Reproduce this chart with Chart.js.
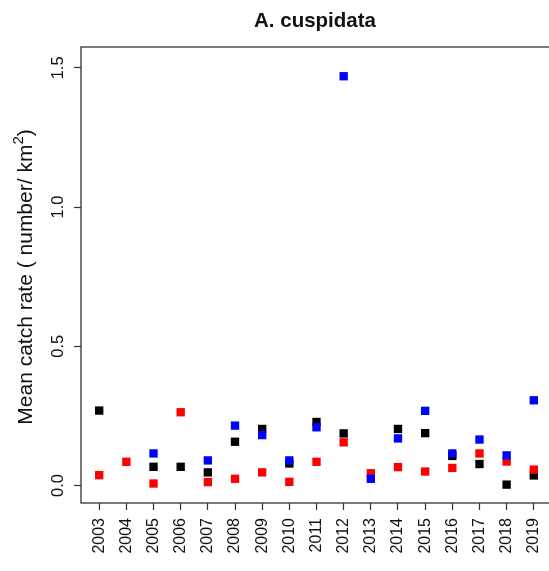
<!DOCTYPE html>
<html>
<head>
<meta charset="utf-8">
<script src="https://cdn.jsdelivr.net/npm/chart.js@4/dist/chart.umd.min.js"></script>
<style>
  html, body { margin: 0; padding: 0; background: #ffffff; overflow: hidden; }
  #wrap { width: 560px; height: 571px; }
</style>
</head>
<body>
<div id="wrap"><canvas id="c" width="560" height="571"></canvas></div>
<script>
const titleText = "A. cuspidata";
const years = [2003, 2004, 2005, 2006, 2007, 2008, 2009, 2010, 2011, 2012, 2013, 2014, 2015, 2016, 2017, 2018, 2019];
const yTicks = [0, 0.5, 1.0, 1.5];
const yTickLabels = ["0.0", "0.5", "1.0", "1.5"];
const blackValues = [0.269, null, 0.067, 0.067, 0.047, 0.157, 0.203, 0.079, 0.228, 0.187, null, 0.203, 0.188, 0.106, 0.077, 0.003, 0.036];
const redValues   = [0.037, 0.085, 0.007, 0.263, 0.012, 0.024, 0.047, 0.013, 0.085, 0.155, 0.044, 0.066, 0.050, 0.063, 0.115, 0.086, 0.057];
const blueValues  = [null, null, 0.115, null, 0.090, 0.215, 0.181, 0.090, 0.209, 1.470, 0.024, 0.169, 0.268, 0.115, 0.165, 0.108, 0.306];

function toPoints(vals) {
  const out = [];
  vals.forEach((v, i) => { if (v !== null) out.push({ x: years[i], y: v }); });
  return out;
}

const AXIS = '#333333';
const FONT = '"Liberation Sans", Arial, sans-serif';

const decor = {
  id: 'decor',
  afterDraw(chart) {
    const ctx = chart.ctx;
    const a = chart.chartArea;
    const xs = chart.scales.x, ys = chart.scales.y;
    ctx.save();
    // box
    ctx.strokeStyle = AXIS;
    ctx.lineWidth = 1.3;
    ctx.strokeRect(a.left, a.top, a.right - a.left, a.bottom - a.top);
    // title
    ctx.fillStyle = '#111';
    ctx.font = 'bold 20.5px ' + FONT;
    ctx.textAlign = 'center';
    ctx.textBaseline = 'middle';
    ctx.fillText(titleText, 315, 21);
    // x tick labels
    ctx.font = '16px ' + FONT;
    years.forEach(yr => {
      const px = xs.getPixelForValue(yr);
      ctx.save();
      ctx.translate(px, a.bottom + 15);
      ctx.rotate(-Math.PI / 2);
      ctx.textAlign = 'right';
      ctx.textBaseline = 'middle';
      ctx.fillText(String(yr), 0, 0);
      ctx.restore();
    });
    // y tick labels
    ctx.font = '16.5px ' + FONT;
    yTicks.forEach((v, i) => {
      const py = ys.getPixelForValue(v);
      ctx.save();
      ctx.translate(63, py);
      ctx.rotate(-Math.PI / 2);
      ctx.textAlign = 'center';
      ctx.textBaseline = 'alphabetic';
      ctx.fillText(yTickLabels[i], 0, 0);
      ctx.restore();
    });
    // y axis title with superscript
    ctx.save();
    const cy = (a.top + a.bottom) / 2 + 2;
    ctx.translate(32, cy);
    ctx.rotate(-Math.PI / 2);
    ctx.textBaseline = 'alphabetic';
    ctx.textAlign = 'left';
    const f1 = '21px ' + FONT, f2 = '15px ' + FONT;
    const p1 = 'Mean catch rate ( number/ km', p2 = '2', p3 = ')';
    ctx.font = f1; const w1 = ctx.measureText(p1).width; const w3 = ctx.measureText(p3).width;
    ctx.font = f2; const w2 = ctx.measureText(p2).width;
    const total = w1 + w2 + w3;
    let x0 = -total / 2;
    ctx.font = f1; ctx.fillText(p1, x0, 0);
    ctx.font = f2; ctx.fillText(p2, x0 + w1, -9);
    ctx.font = f1; ctx.fillText(p3, x0 + w1 + w2, 0);
    ctx.restore();
    ctx.restore();
  }
};

const ptStyle = (color) => ({
  type: 'scatter',
  backgroundColor: color,
  borderColor: color,
  borderWidth: 0,
  pointStyle: 'rect',
  pointRadius: 5.9,
  pointHoverRadius: 5.9,
  showLine: false
});

new Chart(document.getElementById('c'), {
  type: 'scatter',
  data: {
    datasets: [
      Object.assign({ label: 'blue', data: toPoints(blueValues) }, ptStyle('#0000ff')),
      Object.assign({ label: 'red', data: toPoints(redValues) }, ptStyle('#ff0000')),
      Object.assign({ label: 'black', data: toPoints(blackValues) }, ptStyle('#000000'))
    ]
  },
  options: {
    responsive: false,
    animation: false,
    events: [],
    layout: { padding: { left: 74, right: 8, top: 47, bottom: 61 } },
    plugins: { legend: { display: false }, tooltip: { enabled: false }, title: { display: false } },
    scales: {
      x: {
        type: 'linear',
        min: 2002.33,
        max: 2019.67,
        afterBuildTicks: s => { s.ticks = years.map(v => ({ value: v })); },
        afterFit: s => { s.height = 7; },
        ticks: { display: false },
        border: { display: false },
        grid: { display: true, drawOnChartArea: false, drawTicks: true, tickLength: 7, tickColor: AXIS, tickWidth: 1.2 }
      },
      y: {
        type: 'linear',
        min: -0.063,
        max: 1.575,
        afterBuildTicks: s => { s.ticks = yTicks.map(v => ({ value: v })); },
        afterFit: s => { s.width = 7; },
        ticks: { display: false },
        border: { display: false },
        grid: { display: true, drawOnChartArea: false, drawTicks: true, tickLength: 7, tickColor: AXIS, tickWidth: 1.2 }
      }
    }
  },
  plugins: [decor]
});
</script>
</body>
</html>
